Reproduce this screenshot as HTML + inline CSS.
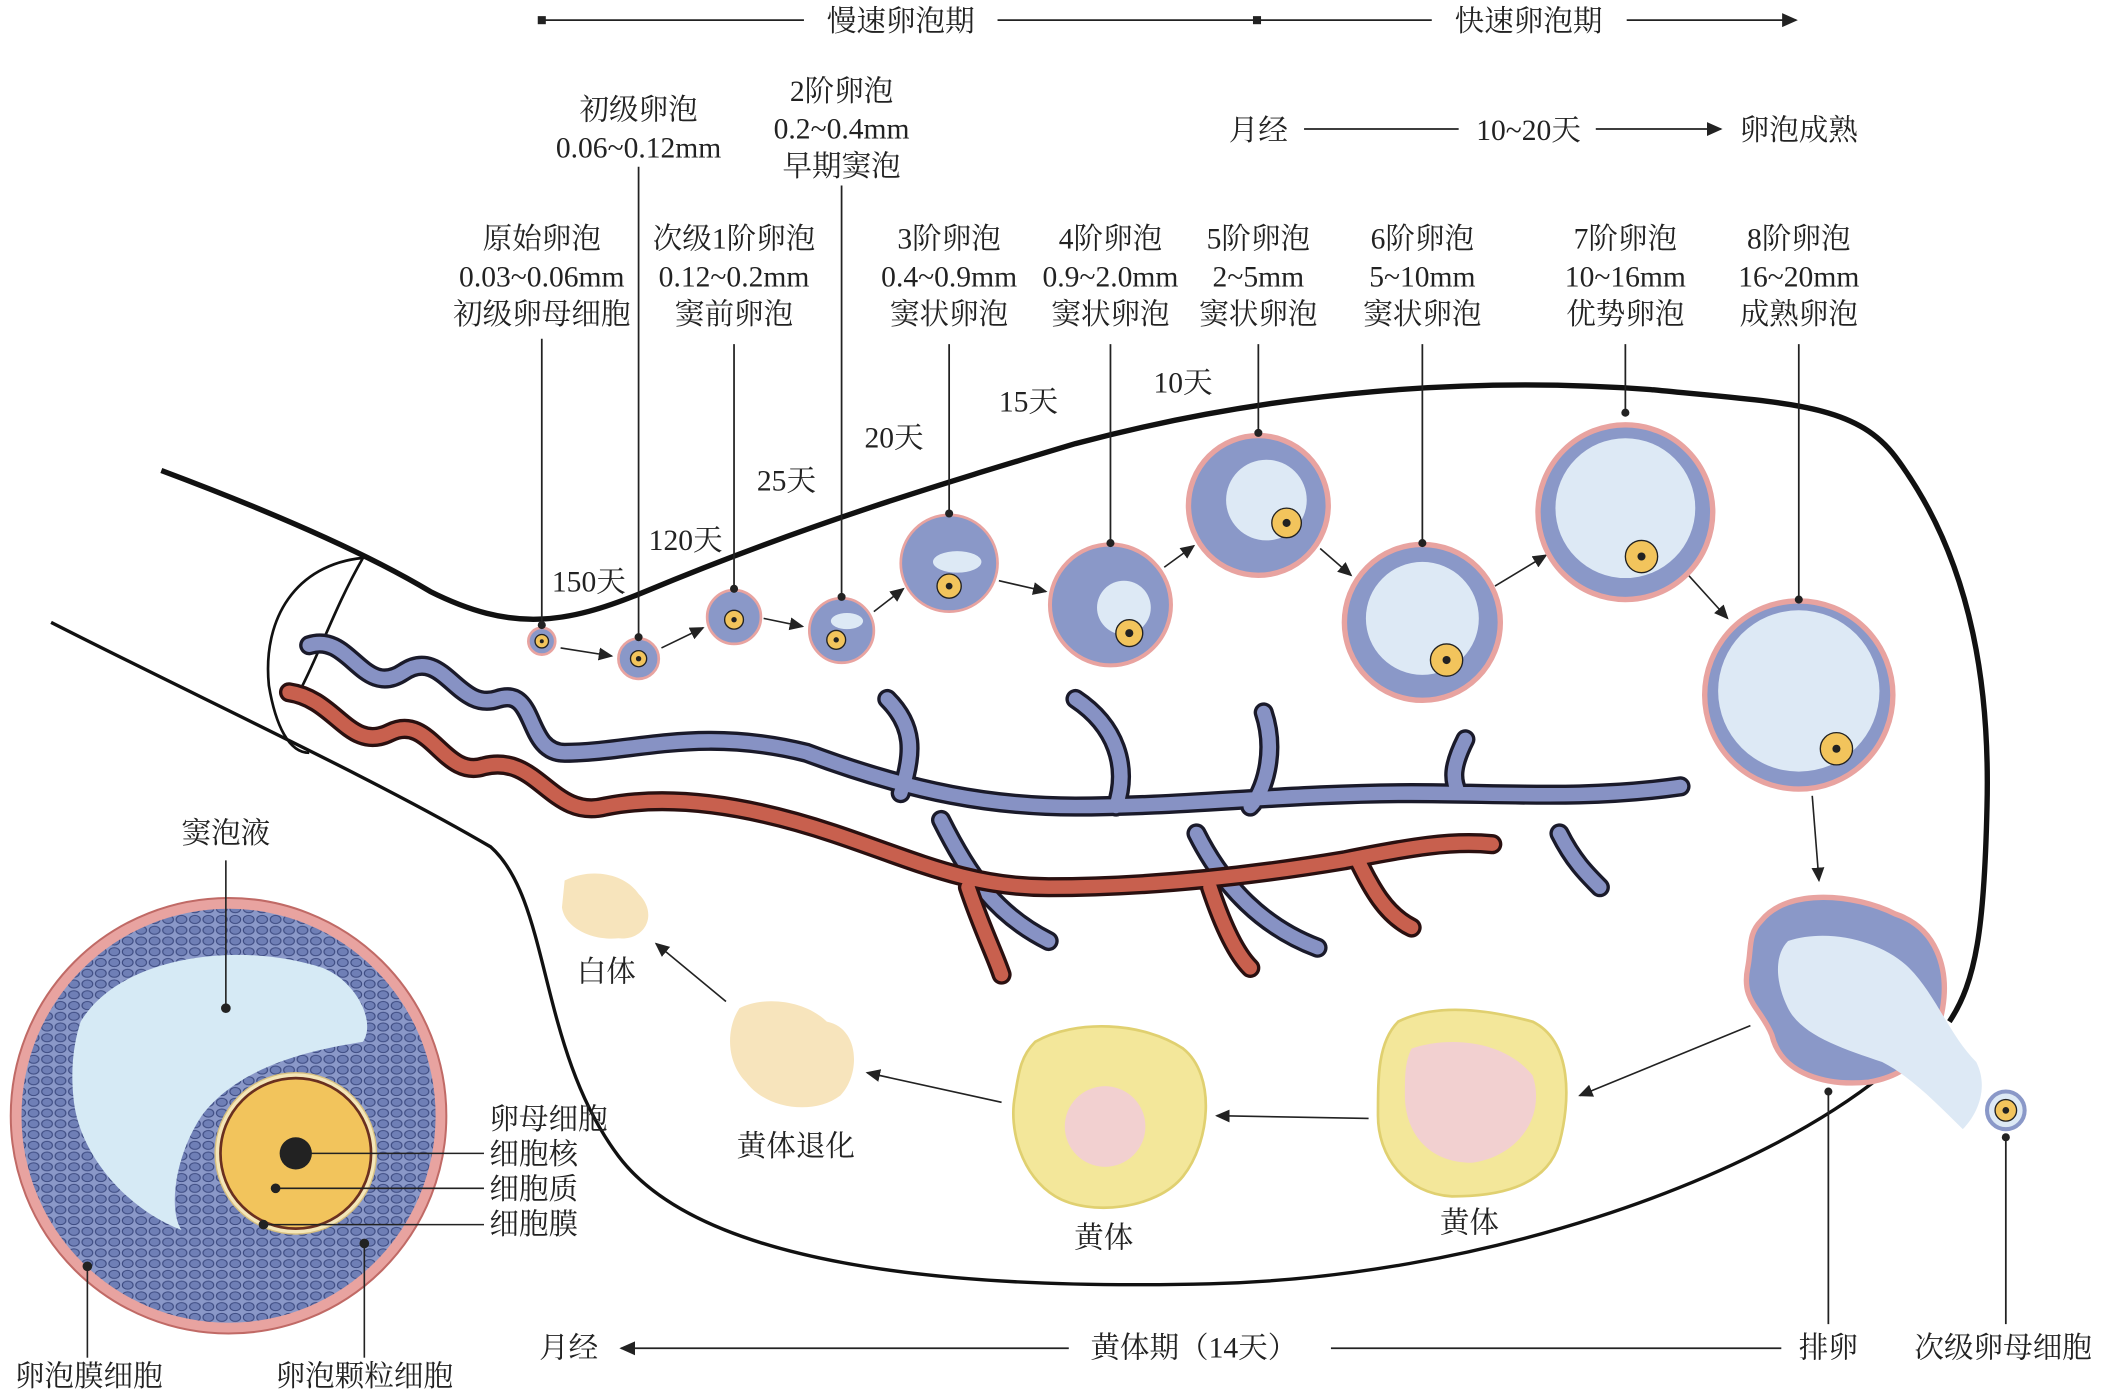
<!DOCTYPE html>
<html><head><meta charset="utf-8"><style>
html,body{margin:0;padding:0;background:#fff;}
svg{display:block;}
text{font-family:"Liberation Serif","Noto Serif CJK SC",serif;font-size:22px;fill:#222;}
.m{text-anchor:middle;}
.s{text-anchor:start;}
</style></head><body>
<svg width="2108" height="1394" viewBox="0 0 1568 1037" preserveAspectRatio="none" xmlns="http://www.w3.org/2000/svg">
<defs>
<marker id="ar" markerWidth="10" markerHeight="10" refX="8" refY="4" orient="auto"><path d="M0,0 L9,4 L0,8 z" fill="#222"/></marker>
<pattern id="cells" width="10" height="8" patternUnits="userSpaceOnUse"><rect width="10" height="8" fill="#8a98c8"/><ellipse cx="5" cy="4" rx="4" ry="3" fill="#6f7fb6" stroke="#3c4a80" stroke-width="0.8"/></pattern>
</defs>
<g class="m">
<rect x="400" y="12" width="6" height="6" fill="#222"/>
<line x1="403" y1="15" x2="598" y2="15" stroke="#222" stroke-width="1.3"/>
<text class="m" x="670" y="23">慢速卵泡期</text>
<line x1="742" y1="15" x2="1065" y2="15" stroke="#222" stroke-width="1.3"/>
<rect x="932" y="12" width="6" height="6" fill="#222"/>
<text class="m" x="1137" y="23">快速卵泡期</text>
<line x1="1210" y1="15" x2="1336" y2="15" stroke="#222" stroke-width="1.3" marker-end="url(#ar)"/>

<text class="m" x="936" y="104">月经</text>
<line x1="970" y1="96" x2="1085" y2="96" stroke="#222" stroke-width="1.3"/>
<text class="m" x="1137" y="104">10~20天</text>
<line x1="1187" y1="96" x2="1280" y2="96" stroke="#222" stroke-width="1.3" marker-end="url(#ar)"/>
<text class="m" x="1338" y="104">卵泡成熟</text>

<text class="m" x="475" y="89">初级卵泡</text><text class="m" x="475" y="117">0.06~0.12mm</text>
<text class="m" x="626" y="75">2阶卵泡</text><text class="m" x="626" y="103">0.2~0.4mm</text><text class="m" x="626" y="131">早期窦泡</text>
<text class="m" x="403" y="185">原始卵泡</text><text class="m" x="403" y="213">0.03~0.06mm</text><text class="m" x="403" y="241">初级卵母细胞</text>
<text class="m" x="546" y="185">次级1阶卵泡</text><text class="m" x="546" y="213">0.12~0.2mm</text><text class="m" x="546" y="241">窦前卵泡</text>
<text class="m" x="706" y="185">3阶卵泡</text><text class="m" x="706" y="213">0.4~0.9mm</text><text class="m" x="706" y="241">窦状卵泡</text>
<text class="m" x="826" y="185">4阶卵泡</text><text class="m" x="826" y="213">0.9~2.0mm</text><text class="m" x="826" y="241">窦状卵泡</text>
<text class="m" x="936" y="185">5阶卵泡</text><text class="m" x="936" y="213">2~5mm</text><text class="m" x="936" y="241">窦状卵泡</text>
<text class="m" x="1058" y="185">6阶卵泡</text><text class="m" x="1058" y="213">5~10mm</text><text class="m" x="1058" y="241">窦状卵泡</text>
<text class="m" x="1209" y="185">7阶卵泡</text><text class="m" x="1209" y="213">10~16mm</text><text class="m" x="1209" y="241">优势卵泡</text>
<text class="m" x="1338" y="185">8阶卵泡</text><text class="m" x="1338" y="213">16~20mm</text><text class="m" x="1338" y="241">成熟卵泡</text>
<text class="m" x="438" y="440">150天</text><text class="m" x="510" y="409">120天</text><text class="m" x="585" y="365">25天</text>
<text class="m" x="665" y="333">20天</text><text class="m" x="765" y="306">15天</text><text class="m" x="880" y="292">10天</text>
</g>

<path d="M120,350 C200,380 270,410 320,440 C380,470 420,465 480,440 C600,390 700,360 800,330 C950,290 1100,280 1230,290 C1330,300 1380,300 1410,340 C1470,420 1480,520 1478,600 C1476,690 1470,730 1450,760" fill="none" stroke="#111" stroke-width="4"/>
<path d="M38,463 C150,520 280,580 365,630 C410,670 400,780 460,860 C520,940 700,960 900,955 C1100,950 1300,880 1400,800" fill="none" stroke="#111" stroke-width="2.5"/>
<path d="M270,415 C220,420 195,460 200,510 C205,540 215,560 230,560" fill="none" stroke="#111" stroke-width="2"/>
<path d="M270,415 C250,450 240,480 225,510" fill="none" stroke="#111" stroke-width="2"/>

<g fill="none" stroke-linecap="round" stroke-linejoin="round">
<path d="M230,480 C260,470 270,520 300,500 C330,480 340,530 370,520 C400,510 390,560 420,560 C470,560 520,540 600,560 C680,590 740,600 800,600 C880,600 960,590 1050,590 C1120,590 1180,595 1250,585 M660,520 C680,540 680,560 670,590 M800,520 C830,540 840,570 830,600 M940,530 C950,560 940,590 930,600 M1090,550 C1080,570 1080,580 1085,590 M1160,620 C1170,640 1180,650 1190,660 M890,620 C910,660 940,690 980,705 M700,610 C720,650 740,680 780,700" stroke="#1a1a2a" stroke-width="15"/>
<path d="M230,480 C260,470 270,520 300,500 C330,480 340,530 370,520 C400,510 390,560 420,560 C470,560 520,540 600,560 C680,590 740,600 800,600 C880,600 960,590 1050,590 C1120,590 1180,595 1250,585 M660,520 C680,540 680,560 670,590 M800,520 C830,540 840,570 830,600 M940,530 C950,560 940,590 930,600 M1090,550 C1080,570 1080,580 1085,590 M1160,620 C1170,640 1180,650 1190,660 M890,620 C910,660 940,690 980,705 M700,610 C720,650 740,680 780,700" stroke="#8792c4" stroke-width="10"/>
<path d="M215,515 C250,520 260,560 290,545 C320,530 330,580 360,570 C400,560 410,610 450,600 C500,590 560,600 620,620 C680,640 720,660 780,660 C860,660 940,650 1000,640 C1050,630 1080,625 1110,628 M720,660 C730,690 740,710 745,725 M900,660 C910,690 920,710 930,720 M1010,640 C1020,660 1030,680 1050,690" stroke="#2a1010" stroke-width="15"/>
<path d="M215,515 C250,520 260,560 290,545 C320,530 330,580 360,570 C400,560 410,610 450,600 C500,590 560,600 620,620 C680,640 720,660 780,660 C860,660 940,650 1000,640 C1050,630 1080,625 1110,628 M720,660 C730,690 740,710 745,725 M900,660 C910,690 920,710 930,720 M1010,640 C1020,660 1030,680 1050,690" stroke="#c8604e" stroke-width="10"/>
</g>

<g stroke="#222" stroke-width="1.3">
<line x1="403" y1="252" x2="403" y2="465"/><line x1="475" y1="124" x2="475" y2="473"/>
<line x1="546" y1="256" x2="546" y2="437"/><line x1="626" y1="138" x2="626" y2="443"/>
<line x1="706" y1="256" x2="706" y2="381"/><line x1="826" y1="256" x2="826" y2="403"/>
<line x1="936" y1="256" x2="936" y2="321"/><line x1="1058" y1="256" x2="1058" y2="403"/>
<line x1="1209" y1="256" x2="1209" y2="306"/><line x1="1338" y1="256" x2="1338" y2="445"/>
</g>
<g stroke="#222" stroke-width="1.2">
<line x1="417" y1="482" x2="455" y2="488" marker-end="url(#ar)"/>
<line x1="492" y1="482" x2="523" y2="467" marker-end="url(#ar)"/>
<line x1="568" y1="460" x2="597" y2="466" marker-end="url(#ar)"/>
<line x1="650" y1="455" x2="672" y2="438" marker-end="url(#ar)"/>
<line x1="743" y1="432" x2="778" y2="440" marker-end="url(#ar)"/>
<line x1="866" y1="422" x2="888" y2="406" marker-end="url(#ar)"/>
<line x1="982" y1="408" x2="1005" y2="428" marker-end="url(#ar)"/>
<line x1="1112" y1="436" x2="1150" y2="413" marker-end="url(#ar)"/>
<line x1="1256" y1="428" x2="1285" y2="460" marker-end="url(#ar)"/>
<line x1="1348" y1="592" x2="1353" y2="655" marker-end="url(#ar)"/>
</g>
<g>
<circle cx="403" cy="477" r="10" fill="#8a98c8" stroke="#e8a3a0" stroke-width="2"/><circle cx="403" cy="477" r="5" fill="#f2c45c" stroke="#222"/>
<circle cx="475" cy="490" r="15" fill="#8a98c8" stroke="#e8a3a0" stroke-width="2"/><circle cx="475" cy="490" r="6" fill="#f2c45c" stroke="#222"/>
<circle cx="546" cy="459" r="20" fill="#8a98c8" stroke="#e8a3a0" stroke-width="2"/><circle cx="546" cy="461" r="7" fill="#f2c45c" stroke="#222"/>
<circle cx="626" cy="469" r="24" fill="#8a98c8" stroke="#e8a3a0" stroke-width="2"/><ellipse cx="630" cy="462" rx="12" ry="6" fill="#dde9f5"/><circle cx="622" cy="476" r="7" fill="#f2c45c" stroke="#222"/>
<circle cx="706" cy="419" r="36" fill="#8a98c8" stroke="#e8a3a0" stroke-width="2"/><ellipse cx="712" cy="418" rx="18" ry="8" fill="#dde9f5"/><circle cx="706" cy="436" r="9" fill="#f2c45c" stroke="#222"/>
<circle cx="826" cy="450" r="45" fill="#8a98c8" stroke="#e8a3a0" stroke-width="3"/><circle cx="836" cy="452" r="20" fill="#dde9f5"/><circle cx="840" cy="471" r="10" fill="#f2c45c" stroke="#222"/>
<circle cx="936" cy="376" r="52" fill="#8a98c8" stroke="#e8a3a0" stroke-width="4"/><circle cx="942" cy="372" r="30" fill="#dde9f5"/><circle cx="957" cy="389" r="11" fill="#f2c45c" stroke="#222"/>
<circle cx="1058" cy="463" r="58" fill="#8a98c8" stroke="#e8a3a0" stroke-width="4"/><circle cx="1058" cy="460" r="42" fill="#dde9f5"/><circle cx="1076" cy="491" r="12" fill="#f2c45c" stroke="#222"/>
<circle cx="1209" cy="381" r="65" fill="#8a98c8" stroke="#e8a3a0" stroke-width="4"/><circle cx="1209" cy="378" r="52" fill="#dde9f5"/><circle cx="1221" cy="414" r="12" fill="#f2c45c" stroke="#222"/>
<circle cx="1338" cy="517" r="70" fill="#8a98c8" stroke="#e8a3a0" stroke-width="4"/><circle cx="1338" cy="514" r="60" fill="#dde9f5"/><circle cx="1366" cy="557" r="12" fill="#f2c45c" stroke="#222"/>
</g>
<g fill="#222"><circle cx="403" cy="465" r="3"/><circle cx="475" cy="474" r="3"/><circle cx="546" cy="438" r="3"/><circle cx="626" cy="444" r="3"/><circle cx="706" cy="382" r="3"/><circle cx="826" cy="404" r="3"/><circle cx="936" cy="322" r="3"/><circle cx="1058" cy="404" r="3"/><circle cx="1209" cy="307" r="3"/><circle cx="1338" cy="446" r="3"/>
<circle cx="403" cy="477" r="1.5"/><circle cx="475" cy="490" r="2"/><circle cx="546" cy="461" r="2"/><circle cx="622" cy="476" r="2"/><circle cx="706" cy="436" r="2.5"/><circle cx="840" cy="471" r="3"/><circle cx="957" cy="389" r="3"/><circle cx="1076" cy="491" r="3"/><circle cx="1221" cy="414" r="3"/><circle cx="1366" cy="557" r="3"/><circle cx="1492" cy="826" r="2.5"/></g>

<path d="M1310,685 C1330,660 1380,665 1410,680 C1440,690 1450,720 1445,750 C1440,780 1420,800 1390,805 C1360,808 1325,800 1318,770 C1310,750 1295,745 1300,720 C1303,705 1300,695 1310,685 z" fill="#8a98c8" stroke="#e8a3a0" stroke-width="4"/>
<path d="M1330,700 C1360,690 1400,700 1420,720 C1440,740 1450,770 1470,790 C1480,810 1470,830 1460,840 C1440,820 1420,800 1400,790 C1370,780 1340,770 1330,750 C1320,730 1320,710 1330,700 z" fill="#dde9f5"/>
<circle cx="1492" cy="826" r="14" fill="#dde9f5" stroke="#8a98c8" stroke-width="3"/><circle cx="1492" cy="826" r="8" fill="#f2c45c" stroke="#222"/>
<circle cx="1492" cy="826" r="2.5" fill="#222"/>

<g stroke="#222" stroke-width="1.2">
<line x1="1302" y1="763" x2="1175" y2="815" marker-end="url(#ar)"/>
<line x1="1018" y1="832" x2="905" y2="830" marker-end="url(#ar)"/>
<line x1="745" y1="820" x2="645" y2="798" marker-end="url(#ar)"/>
<line x1="540" y1="745" x2="488" y2="702" marker-end="url(#ar)"/>
</g>
<path d="M1040,760 C1070,745 1110,752 1140,760 C1170,775 1168,820 1160,850 C1150,885 1110,890 1080,890 C1045,888 1025,860 1025,830 C1025,800 1025,775 1040,760 z" fill="#f3e79a" stroke="#e0d070" stroke-width="2"/>
<path d="M1050,780 C1080,770 1120,775 1140,800 C1150,830 1130,860 1095,865 C1060,865 1045,840 1045,815 C1045,800 1045,790 1050,780 z" fill="#f2d0d0"/>
<path d="M770,775 C800,758 850,760 880,780 C905,800 900,850 880,875 C860,900 810,905 785,890 C760,875 750,840 755,815 C758,795 760,785 770,775 z" fill="#f3e79a" stroke="#e0d070" stroke-width="2"/>
<circle cx="822" cy="838" r="30" fill="#f2d0d0"/>
<path d="M550,750 C570,740 600,745 615,760 C640,765 640,800 625,815 C605,830 570,825 555,805 C540,790 540,765 550,750 z" fill="#f7e4bc"/>
<path d="M420,655 C440,645 465,650 475,665 C490,680 480,700 460,698 C440,700 420,690 418,675 z" fill="#f7e4bc"/>
<text class="m" x="451" y="730">白体</text>
<text class="m" x="592" y="860">黄体退化</text>
<text class="m" x="821" y="928">黄体</text>
<text class="m" x="1093" y="917">黄体</text>

<circle cx="170" cy="830" r="162" fill="#e8a3a0" stroke="#c06a66" stroke-width="1.5"/>
<circle cx="170" cy="830" r="154" fill="url(#cells)"/>
<path d="M60,760 C90,710 180,700 240,720 C265,730 280,760 270,775 C240,780 180,790 150,830 C130,860 125,900 135,915 C95,900 60,860 55,820 C52,795 55,775 60,760 z" fill="#d6eaf5"/>
<circle cx="220" cy="858" r="60" fill="#f4e6b8" stroke="#d8c080"/>
<circle cx="220" cy="858" r="56" fill="#f2c45c" stroke="#6a3020" stroke-width="2"/>
<circle cx="220" cy="858" r="12" fill="#222"/>
<g stroke="#222" stroke-width="1.2" fill="#222">
<line x1="168" y1="640" x2="168" y2="750"/><circle cx="168" cy="750" r="3"/>
<line x1="220" y1="858" x2="360" y2="858"/>
<line x1="205" y1="884" x2="360" y2="884"/><circle cx="205" cy="884" r="3"/>
<line x1="196" y1="911" x2="360" y2="911"/><circle cx="196" cy="911" r="3"/>
<line x1="65" y1="942" x2="65" y2="1010"/><circle cx="65" cy="942" r="3"/>
<line x1="271" y1="925" x2="271" y2="1010"/><circle cx="271" cy="925" r="3"/>
</g>
<text class="m" x="168" y="627">窦泡液</text>
<text class="s" x="364" y="840">卵母细胞</text><text class="s" x="364" y="866">细胞核</text><text class="s" x="364" y="892">细胞质</text><text class="s" x="364" y="918">细胞膜</text>
<text class="m" x="66" y="1031">卵泡膜细胞</text>
<text class="m" x="271" y="1031">卵泡颗粒细胞</text>

<text class="m" x="423" y="1010">月经</text>
<line x1="795" y1="1003" x2="462" y2="1003" stroke="#222" stroke-width="1.3" marker-end="url(#ar)"/>
<text class="m" x="888" y="1010">黄体期（14天）</text>
<line x1="990" y1="1003" x2="1325" y2="1003" stroke="#222" stroke-width="1.3"/>
<text class="m" x="1360" y="1010">排卵</text>
<line x1="1360" y1="985" x2="1360" y2="812" stroke="#222" stroke-width="1.3"/><circle cx="1360" cy="812" r="3" fill="#222"/>
<text class="m" x="1490" y="1010">次级卵母细胞</text>
<line x1="1492" y1="985" x2="1492" y2="846" stroke="#222" stroke-width="1.3"/><circle cx="1492" cy="846" r="3" fill="#222"/>
</svg>
</body></html>
